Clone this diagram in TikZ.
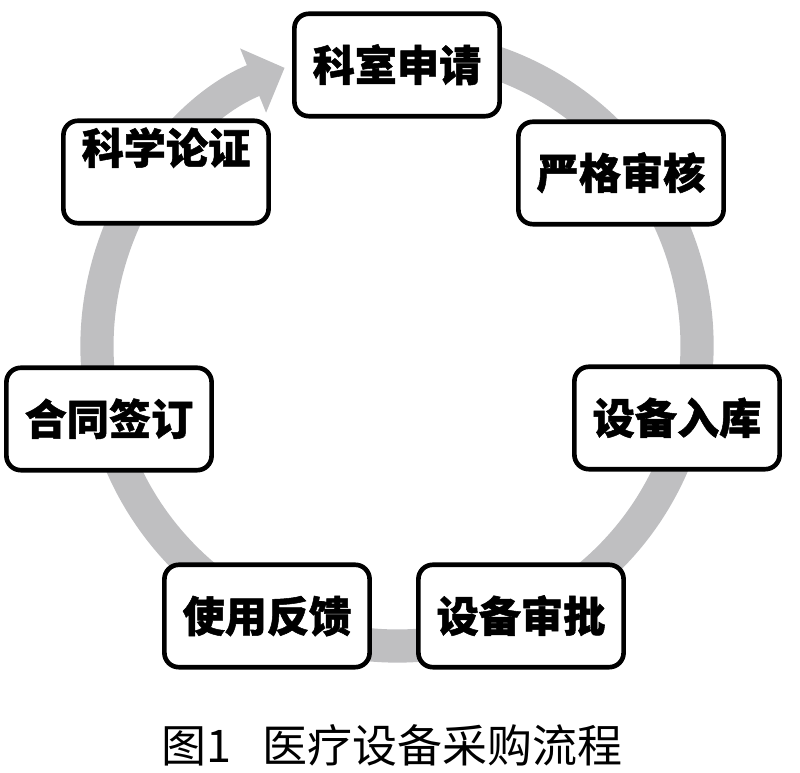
\documentclass[tikz,border=0pt]{standalone}
\usepackage{fontspec}
\usepackage{tikz}
\usetikzlibrary{arrows.meta}
\newfontfamily\cjk{Noto Sans CJK SC}[BoldFeatures={FakeBold=1.2}]
\definecolor{ringgray}{RGB}{191,191,193}
\tikzset{
  stepbox/.style={draw, fill=white, line width=3.3pt, rounded corners=0.36cm,
    minimum width=5.13cm, minimum height=2.56cm, inner sep=0pt,
    text height=0.93cm, text depth=0.13cm,
    font=\cjk\bfseries\fontsize{30}{30}\selectfont},
  ring/.style={ringgray, line width=0.83cm,
    -{Triangle[width=1.68cm, length=0.85cm]}}
}

\begin{document}
\begin{tikzpicture}
    \useasboundingbox (0,0) rectangle (20,19.325);
    \coordinate (c) at (9.925,10.675);

    % grey cycle behind the boxes
    \draw[ring] (c) ++(80:7.5) arc[start angle=80, end angle=-248, radius=7.5];

    \node[stepbox] (apply)    at (9.925,17.7)  {科室申请};
    \node[stepbox] (review)   at (15.525,15.0) {严格审核};
    \node[stepbox] (store)    at (16.925,8.875) {设备入库};
    \node[stepbox] (approve)  at (13.025,3.925) {设备审批};
    \node[stepbox] (feedback) at (6.675,3.925) {使用反馈};
    \node[stepbox] (contract) at (2.725,8.85)  {合同签订};
    \node[stepbox, text depth=1.33cm] (proof) at (4.15,15.025) {科学论证};

    \node[font=\cjk\fontsize{32}{32}\selectfont, inner sep=0pt] (caption) at (9.8,0.7)
      {图1\hspace{0.7em}医疗设备采购流程};
\end{tikzpicture}
\end{document}
